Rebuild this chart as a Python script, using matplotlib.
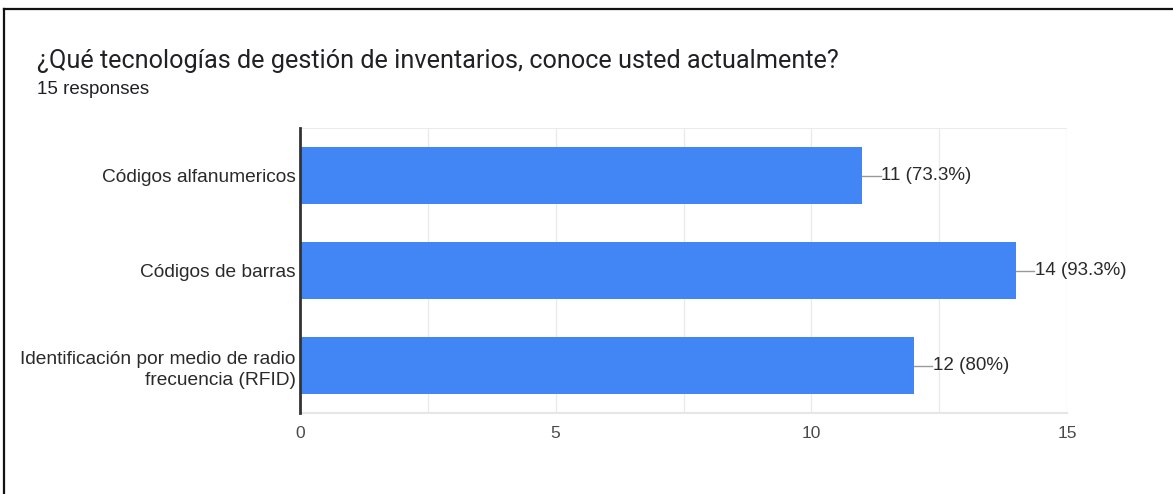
import matplotlib
matplotlib.use("Agg")
import matplotlib.pyplot as plt
from matplotlib.lines import Line2D

categories = [
    "Códigos alfanumericos",
    "Códigos de barras",
    "Identificación por medio de radio\nfrecuencia (RFID)",
]
counts = [11, 14, 12]
labels = ["11 (73.3%)", "14 (93.3%)", "12 (80%)"]
x_ticks = [0, 5, 10, 15]
minor_ticks = [2.5, 7.5, 12.5]

title = "¿Qué tecnologías de gestión de inventarios, conoce usted actualmente?"
subtitle = "15 responses"

W, H = 1173, 494
fig = plt.figure(figsize=(W / 100, H / 100), dpi=100)
ax = fig.add_axes([300 / W, 1 - 413 / H, 767 / W, 285 / H])

ypos = list(range(len(categories)))
ax.barh(ypos, counts, height=0.61, color="#4285f4", zorder=3)
ax.set_xlim(0, 15)
ax.set_ylim(2.5, -0.5)

ax.set_xticks(x_ticks)
ax.set_xticks(minor_ticks, minor=True)
ax.tick_params(axis="x", which="both", length=0, pad=9, labelsize=12.5, labelcolor="#4a4a4a")
ax.set_yticks(ypos)
ax.set_yticklabels(categories, fontsize=13.8, color="#2a2a2a", family="Liberation Sans",
                   linespacing=1.35)
ax.tick_params(axis="y", length=0, pad=3)
for t in ax.get_xticklabels():
    t.set_family("Liberation Sans")
ax.grid(axis="x", which="both", color="#ebebeb", linewidth=1, zorder=0)

for s in ["top", "right"]:
    ax.spines[s].set_visible(False)
ax.spines["bottom"].set_color("#e6e6e6")
ax.spines["bottom"].set_linewidth(1.5)
ax.spines["left"].set_color("#333333")
ax.spines["left"].set_linewidth(2)
ax.spines["left"].set_zorder(4)
ax.axhline(-0.5, color="#ebebeb", linewidth=1.5, zorder=0)

for y, c, lab in zip(ypos, counts, labels):
    ax.plot([c, c + 0.36], [y, y], color="#999999", linewidth=1, clip_on=False, zorder=3)
    ax.text(c + 0.37, y, lab, va="center", ha="left", fontsize=13.5,
            color="#2a2a2a", family="Liberation Sans")

fig.text(37 / W, 1 - 61 / H, title, fontsize=18.2, family="Roboto",
         color="#202124", va="center", ha="left")
fig.text(37 / W, 1 - 89 / H, subtitle, fontsize=13.5, family="Liberation Sans",
         color="#202124", va="center", ha="left")

# frame from screenshot
fig.add_artist(Line2D([4 / W, 1], [1 - 9 / H, 1 - 9 / H], color="#111111", linewidth=1.6))
fig.add_artist(Line2D([4 / W, 4 / W], [0, 1 - 9 / H], color="#111111", linewidth=1.6))

fig.savefig("out.png", dpi=100)
